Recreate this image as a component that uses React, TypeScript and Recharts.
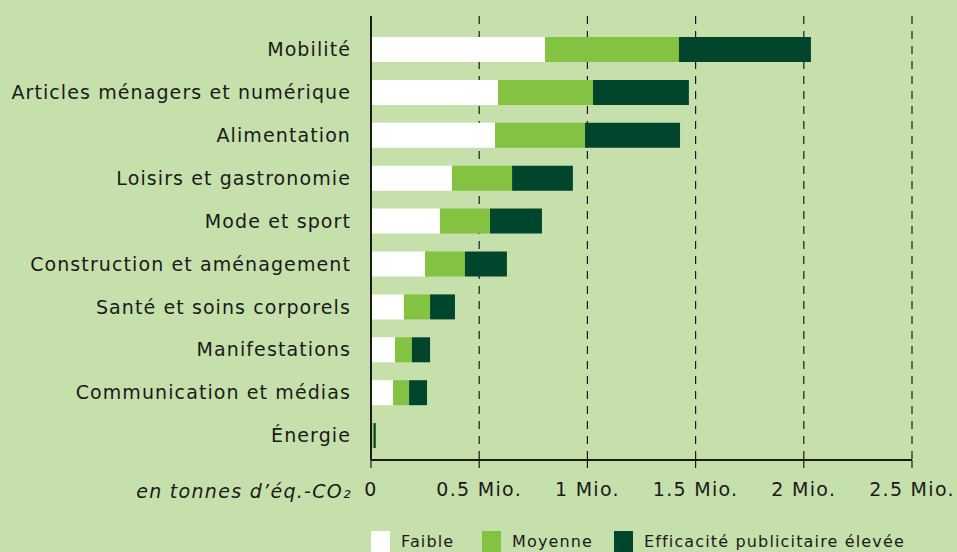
import React from 'react';
import { BarChart, Bar, XAxis, YAxis, CartesianGrid } from 'recharts';

const categories = [
  'Mobilité',
  'Articles ménagers et numérique',
  'Alimentation',
  'Loisirs et gastronomie',
  'Mode et sport',
  'Construction et aménagement',
  'Santé et soins corporels',
  'Manifestations',
  'Communication et médias',
  'Énergie',
];
const faible = [0.804, 0.587, 0.573, 0.374, 0.319, 0.25, 0.152, 0.111, 0.102, 0.006];
const moyenne = [0.619, 0.439, 0.416, 0.278, 0.231, 0.184, 0.121, 0.078, 0.074, 0.006];
const elevee = [0.61, 0.443, 0.439, 0.281, 0.24, 0.194, 0.115, 0.084, 0.083, 0.01];
const xTicks = [0, 0.5, 1, 1.5, 2, 2.5];
const tickLabels = ['0', '0.5 Mio.', '1 Mio.', '1.5 Mio.', '2 Mio.', '2.5 Mio.'];

const series = [
  { key: 'faible', name: 'Faible', color: '#ffffff' },
  { key: 'moyenne', name: 'Moyenne', color: '#84c341' },
  { key: 'elevee', name: 'Efficacité publicitaire élevée', color: '#00452c' },
];
// legend swatch x positions
const legendX = [371, 482, 614];

const data = categories.map((name, i) => ({
  name,
  faible: faible[i],
  moyenne: moyenne[i],
  elevee: elevee[i],
}));

const BG = '#c6e0ac';
const INK = '#1a1a1a';
const FONT = '"DejaVu Sans", "Open Sans", sans-serif';

export default function App() {
  return (
    <div style={{ position: 'absolute', left: 0, top: 0, width: 957, height: 552, background: BG, fontFamily: FONT, overflow: 'hidden' }}>
      <BarChart
        width={957}
        height={552}
        data={data}
        layout="vertical"
        margin={{ top: 16, right: 45, left: 0, bottom: 0 }}
        barSize={25}
      >
        <CartesianGrid horizontal={false} vertical stroke={INK} strokeDasharray="8 7" strokeWidth={1.2} />
        <XAxis
          type="number"
          domain={[0, 2.5]}
          ticks={xTicks}
          tickFormatter={(v: number) => tickLabels[xTicks.indexOf(v)]}
          axisLine={{ stroke: INK, strokeWidth: 2 }}
          tickLine={{ stroke: INK, strokeWidth: 1.2 }}
          tickSize={8}
          tickMargin={15}
          tick={{ fill: INK, fontSize: 19, fontFamily: FONT, letterSpacing: 1.3 }}
          interval={0}
          height={92}
        />
        <YAxis
          type="category"
          dataKey="name"
          width={371}
          padding={{ top: 12, bottom: 3 }}
          axisLine={{ stroke: INK, strokeWidth: 2 }}
          tickLine={false}
          tickMargin={14}
          tick={{ fill: INK, fontSize: 19, fontFamily: FONT, letterSpacing: 1.1 }}
          interval={0}
        />
        {series.map((s) => (
          <Bar key={s.key} dataKey={s.key} name={s.name} stackId="a" fill={s.color} isAnimationActive={false} />
        ))}
      </BarChart>
      <div style={{ position: 'absolute', left: 0, width: 352, top: 480, textAlign: 'right', fontStyle: 'italic', fontSize: 19, color: INK, letterSpacing: 1.3 }}>
        en tonnes d’éq.-CO₂
      </div>
      {series.map((s, i) => (
        <div key={s.key} style={{ position: 'absolute', left: legendX[i], top: 531, display: 'flex', alignItems: 'flex-start', fontSize: 16, color: INK, letterSpacing: 1.15 }}>
          <div style={{ width: 19, height: 21, background: s.color, marginRight: 11 }} />
          <span style={{ lineHeight: '20px', marginTop: 1, whiteSpace: 'nowrap' }}>{s.name}</span>
        </div>
      ))}
    </div>
  );
}
